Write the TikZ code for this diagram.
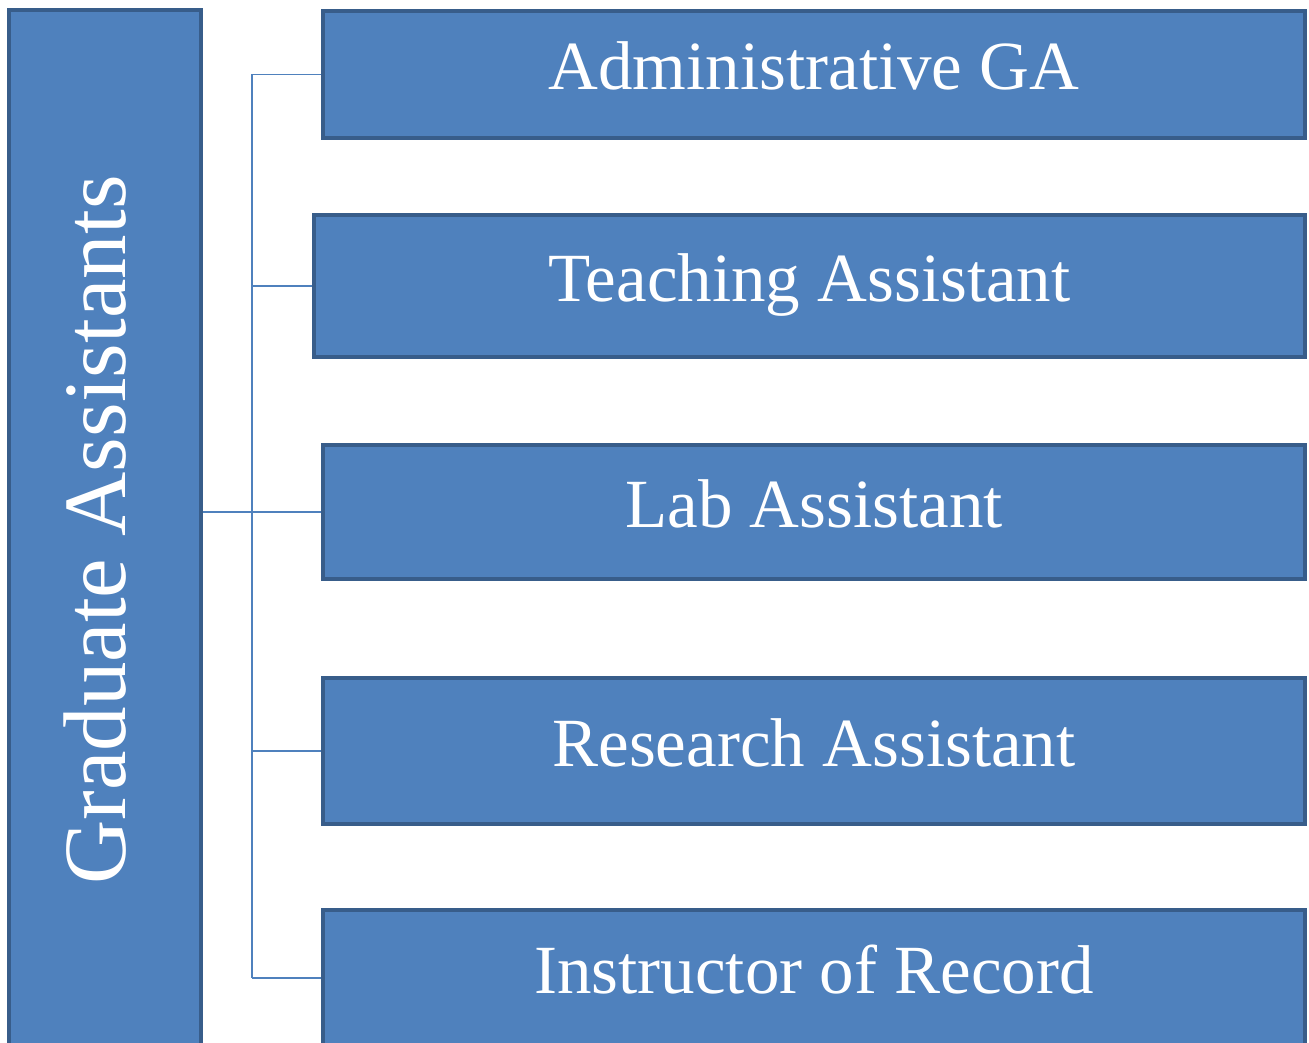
\documentclass[tikz,border=0pt]{standalone}
\usepackage{fontspec}
\setmainfont{Liberation Serif}
\definecolor{boxfill}{HTML}{4F81BD}
\definecolor{boxline}{HTML}{385D8A}
\colorlet{conn}{boxfill}

\begin{document}
\begin{tikzpicture}[x=0.5pt,y=-0.5pt,
    gabox/.style={draw=boxline,fill=boxfill,line width=2.2pt,text=white,inner sep=0pt},
    role/.style={gabox,minimum width=491pt,font=\fontsize{34.5}{40}\selectfont,
        text height=24pt,text depth=8.6pt},
    link/.style={draw=conn,line width=0.8pt}]
    \useasboundingbox (0,0) rectangle (1309,1042);
    \clip (0,0) rectangle (1309,1042);

    \node[gabox,rotate=90,minimum width=520pt,minimum height=96pt,text height=31pt,text depth=11pt,
        font=\fontsize{44.5}{50}\selectfont] (ga) at (105,530) {Graduate Assistants};

    \node[role,minimum height=63.5pt] (adm) at (814,74.5) {Administrative GA};
    \node[role,minimum height=71pt,minimum width=495.5pt] (tea) at (809.5,286) {Teaching Assistant};
    \node[role,minimum height=67pt] (lab) at (814,512) {Lab Assistant};
    \node[role,minimum height=73pt] (res) at (814,751) {Research Assistant};
    \node[role,minimum height=68pt] (ior) at (814,978) {Instructor of Record};

    \coordinate (spine) at (252,0);
    \draw[link] (ga.south |- lab.west) -- (lab.west);
    \draw[link] (spine |- adm.west) -- (spine |- ior.west);
    \foreach \n in {adm,tea,res,ior} {
        \draw[link] (spine |- \n.west) -- (\n.west);
    }
\end{tikzpicture}
\end{document}
